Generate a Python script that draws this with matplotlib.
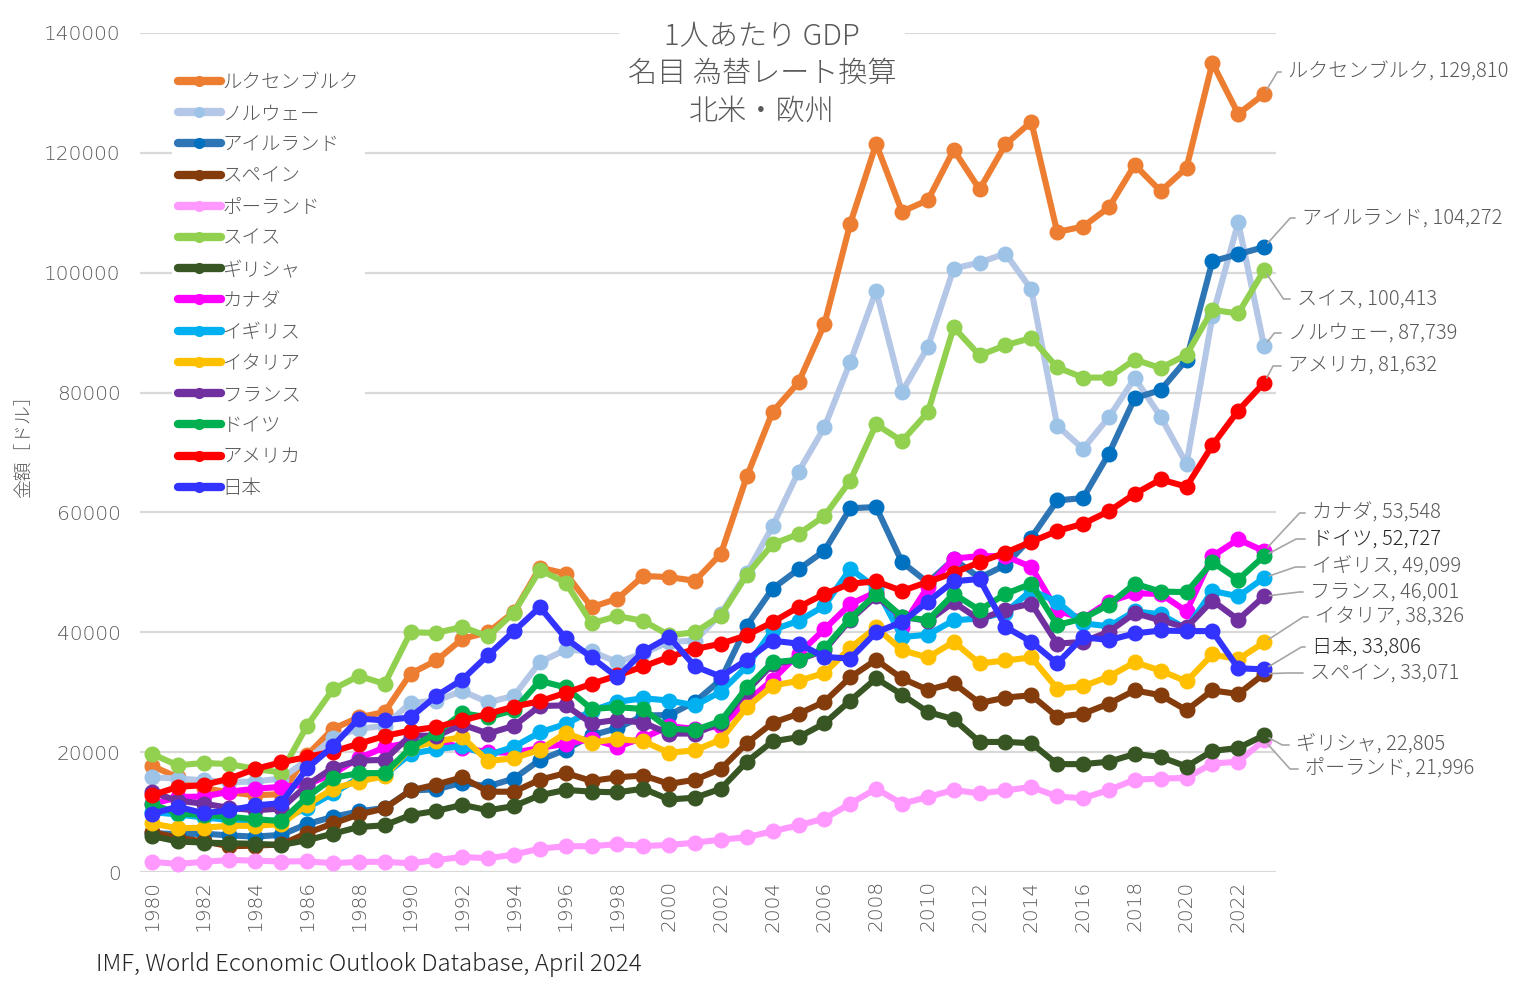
import matplotlib
matplotlib.use('Agg')
import matplotlib.pyplot as plt
from matplotlib.lines import Line2D

plt.rcParams['font.family'] = ['Noto Sans CJK JP', 'DejaVu Sans']
plt.rcParams['font.weight'] = 'light'

years = list(range(1980, 2024))

luxembourg = [17700, 15800, 14000, 13300, 12800, 13000, 19500, 23900, 25800, 26700,
              33100, 35300, 38900, 40000, 43400, 50800, 49800, 44200, 45600, 49400,
              49200, 48600, 53100, 66000, 76800, 81700, 91400, 108200, 121500, 110200,
              112100, 120500, 113900, 121400, 125200, 106800, 107700, 110900, 118000, 113600,
              117500, 135000, 126500, 129810]
norway = [15800, 15600, 15300, 15000, 15100, 15600, 18700, 22400, 23900, 24400,
          28200, 28600, 30200, 28300, 29400, 35000, 37100, 36800, 35000, 36500,
          38400, 38600, 43100, 49900, 57700, 66800, 74200, 85100, 97000, 80100,
          87600, 100700, 101700, 103200, 97200, 74500, 70600, 75900, 82400, 76000,
          68100, 92700, 108400, 87739]
ireland = [6500, 6300, 6400, 6100, 5900, 6200, 8000, 9200, 10100, 10700,
           13600, 13800, 14900, 14300, 15600, 18700, 20400, 22800, 24000, 26100,
           26200, 28400, 32100, 41100, 47300, 50500, 53600, 60700, 60900, 51700,
           48300, 52200, 49100, 51200, 55800, 62000, 62400, 69800, 79100, 80400,
           85500, 101900, 103100, 104272]
spain = [6700, 5700, 5100, 4300, 4400, 4600, 6500, 8100, 9600, 10600,
         13600, 14600, 15800, 13400, 13400, 15400, 16500, 15200, 15800, 16100,
         14700, 15400, 17200, 21500, 24900, 26400, 28400, 32500, 35400, 32300,
         30400, 31500, 28200, 29100, 29500, 25900, 26400, 28100, 30300, 29500,
         27000, 30300, 29700, 33071]
poland = [1700, 1350, 1700, 2000, 1900, 1750, 1800, 1450, 1700, 1700,
          1450, 2000, 2500, 2300, 2900, 3900, 4300, 4300, 4650, 4350,
          4500, 4900, 5400, 5800, 6800, 7800, 8900, 11400, 13900, 11400,
          12500, 13700, 13100, 13600, 14200, 12600, 12300, 13700, 15400, 15600,
          15700, 18100, 18400, 21996]
switzerland = [19700, 17800, 18200, 18000, 17200, 16600, 24400, 30500, 32700, 31400,
               40000, 39900, 40900, 39300, 43300, 50400, 48300, 41500, 42700, 41900,
               39500, 40000, 42800, 49600, 54700, 56400, 59400, 65300, 74700, 71900,
               76700, 90900, 86200, 87900, 89100, 84200, 82500, 82500, 85500, 84100,
               86300, 93800, 93200, 100413]
greece = [6000, 5100, 4900, 4800, 4700, 4500, 5300, 6400, 7500, 7800,
          9500, 10200, 11200, 10300, 11000, 12800, 13700, 13400, 13300, 13900,
          12100, 12400, 13900, 18400, 21800, 22500, 24800, 28600, 32300, 29600,
          26700, 25500, 21700, 21700, 21500, 18000, 18000, 18400, 19700, 19200,
          17600, 20200, 20700, 22805]
canada = [11300, 12500, 12600, 13400, 13900, 14200, 14600, 16400, 19000, 20800,
          21600, 21900, 20700, 20000, 19900, 20700, 21400, 22200, 20900, 22400,
          24300, 23900, 24300, 28400, 32100, 36400, 40500, 44700, 46700, 40900,
          47600, 52300, 52700, 52700, 50900, 43600, 42300, 45100, 46500, 46400,
          43500, 52700, 55500, 53548]
uk = [10000, 9600, 9100, 8700, 8200, 8700, 10700, 13100, 15700, 16200,
      19700, 20500, 21000, 19500, 20900, 23300, 24700, 26900, 28400, 29000,
      28600, 27800, 30100, 34300, 40400, 41900, 44400, 50600, 47400, 39200,
      39600, 42000, 42300, 43300, 47000, 45100, 41500, 41000, 43500, 43000,
      40600, 46900, 46000, 49099]
italy = [8100, 7300, 7400, 7700, 7700, 8000, 11200, 13900, 15100, 16000,
         20700, 21800, 22500, 18500, 19000, 20400, 23200, 21600, 22200, 21800,
         19900, 20300, 22100, 27500, 31100, 31900, 33200, 37400, 40800, 37000,
         35800, 38400, 34800, 35300, 35800, 30600, 31000, 32600, 35000, 33600,
         31800, 36300, 35500, 38326]
france = [13300, 11900, 11400, 10700, 10300, 10600, 14500, 17400, 18600, 18700,
          22800, 22700, 24600, 23100, 24400, 27700, 27800, 24800, 25400, 24900,
          23100, 23100, 24900, 30200, 34700, 35400, 37000, 42100, 46000, 42600,
          41900, 45000, 42100, 43800, 44800, 38100, 38400, 40100, 43200, 42000,
          40800, 45300, 42100, 46001]
germany = [11300, 9800, 9500, 9200, 8800, 8500, 12500, 15700, 16500, 16500,
           20700, 23200, 26500, 25800, 27000, 31900, 30800, 27200, 27500, 27200,
           23900, 23700, 25200, 30800, 35000, 35400, 37300, 42300, 46400, 42600,
           42000, 46400, 43700, 46400, 48100, 41200, 42300, 44600, 48100, 46800,
           46700, 51700, 48800, 52727]
usa = [12800, 14200, 14500, 15600, 17200, 18300, 19200, 20100, 21400, 22700,
       23600, 24200, 25300, 26400, 27600, 28500, 29900, 31400, 32800, 34300,
       35900, 37200, 38100, 39500, 41700, 44200, 46400, 48100, 48500, 46900,
       48400, 49900, 51700, 53300, 55100, 56900, 58100, 60200, 63100, 65500,
       64300, 71200, 77000, 81632]
japan = [9700, 10900, 9800, 10300, 11100, 11500, 17300, 21000, 25600, 25300,
         25800, 29400, 32100, 36200, 40200, 44200, 39000, 35800, 32500, 36800,
         39200, 34300, 32600, 35400, 38600, 38100, 35900, 35600, 40000, 41700,
         45100, 48500, 48900, 40900, 38400, 34800, 39200, 38700, 39800, 40300,
         40200, 40200, 34000, 33806]

names = ['ルクセンブルク', 'ノルウェー', 'アイルランド', 'スペイン', 'ポーランド', 'スイス',
         'ギリシャ', 'カナダ', 'イギリス', 'イタリア', 'フランス', 'ドイツ', 'アメリカ', '日本']
data = [luxembourg, norway, ireland, spain, poland, switzerland, greece,
        canada, uk, italy, france, germany, usa, japan]
line_colors = ['#ED7D31', '#B4C7E7', '#2E75B6', '#843C0C', '#FF99FF', '#92D050', '#375623',
               '#FF00FF', '#00B0F0', '#FFC000', '#7030A0', '#00B050', '#FF0000', '#3333FF']
marker_colors = ['#ED7D31', '#9DC3E6', '#0070C0', '#843C0C', '#FF99FF', '#92D050', '#375623',
                 '#FF00FF', '#00B0F0', '#FFC000', '#7030A0', '#00B050', '#FF0000', '#3333FF']

# end labels: (series index, text x px, text y px from top, angle of leader at point, text color)
end_labels = [
    (0, 1288, 72, 59, '#595959'),
    (2, 1302, 218, 48, '#595959'),
    (5, 1297, 299, -56, '#595959'),
    (1, 1288, 333, 52, '#595959'),
    (12, 1288, 366, 62, '#595959'),
    (7, 1312, 513, 47, '#595959'),
    (11, 1312, 539, 28, '#262626'),
    (8, 1312, 567, 19, '#595959'),
    (10, 1310, 592, 7, '#595959'),
    (9, 1315, 617, 33, '#595959'),
    (13, 1312, 647, 31, '#262626'),
    (3, 1310, 673, 2, '#595959'),
    (6, 1296, 745, -28, '#595959'),
    (4, 1305, 769, -48, '#595959'),
]

W, H = 1524, 996
fig = plt.figure(figsize=(W / 100, H / 100), dpi=100)
ax = fig.add_axes([140 / W, 1 - 872 / H, (1276 - 140) / W, (872 - 33) / H])

for i, (name, vals) in enumerate(zip(names, data)):
    ax.plot(years, vals, color=line_colors[i], lw=4.4, marker='o', markersize=10.5,
            markerfacecolor=marker_colors[i], markeredgecolor=marker_colors[i],
            solid_capstyle='round', solid_joinstyle='round', zorder=3 + i, clip_on=False)

ax.set_xlim(1979.54, 2023.46)
ax.set_ylim(0, 140000)
ax.set_yticks(range(0, 140001, 20000))
ax.set_xticks(range(1980, 2023, 2))
ax.set_xticklabels([str(y) for y in range(1980, 2023, 2)], rotation=90)
ax.tick_params(axis='both', length=0, colors='#595959')
for lab in ax.get_xticklabels() + ax.get_yticklabels():
    lab.set_family('DejaVu Sans')
    lab.set_fontsize(14.5)
ax.tick_params(axis='y', pad=14)
ax.tick_params(axis='x', pad=6)
ax.yaxis.grid(True, color='#d9d9d9', lw=1.6, zorder=0)
ax.set_axisbelow(True)
for s in ax.spines.values():
    s.set_visible(False)

fig.text(25 / W, 1 - 442 / H, '金額［ドル］', rotation=90, ha='center', va='center',
         fontsize=13.5, color='#595959')

fig.text(0.5, 1 - 74 / H, '1人あたり GDP\n名目 為替レート換算\n北米・欧州', ha='center', va='center',
         fontsize=21, color='#595959', linespacing=1.3, zorder=20,
         bbox=dict(facecolor='white', edgecolor='none', pad=6))

handles = [Line2D([], [], color=line_colors[i], lw=6, marker='o', markersize=7,
                  markerfacecolor=marker_colors[i], markeredgecolor=marker_colors[i],
                  solid_capstyle='round') for i in range(len(names))]
leg = ax.legend(handles, names, loc='upper left', bbox_to_anchor=(172 / W, 1 - 66 / H),
                bbox_transform=fig.transFigure, frameon=True, fontsize=14,
                handlelength=2.2, handletextpad=0.1, labelspacing=0.525, borderpad=0.3,
                borderaxespad=0, labelcolor='#595959')
leg.get_frame().set_facecolor('white')
leg.get_frame().set_edgecolor('none')
leg.get_frame().set_alpha(1)
leg.set_zorder(30)

for idx, tx, ty, ang, tcol in end_labels:
    v = data[idx][-1]
    ax.annotate(f'{names[idx]}, {v:,}', xy=(years[-1], v), xycoords='data',
                xytext=(tx, H - ty), textcoords='figure pixels', ha='left', va='center',
                fontsize=14.5, color=tcol, zorder=40,
                arrowprops=dict(arrowstyle='-', color='#a6a6a6', lw=1.2, relpos=(0, 0.5),
                                shrinkA=3, shrinkB=4,
                                connectionstyle=f'angle,angleA=180,angleB={ang},rad=0'))

fig.text(96 / W, 1 - 964 / H, 'IMF, World Economic Outlook Database, April 2024',
         ha='left', va='center', fontsize=17.3, color='#262626')

fig.savefig('out.png', dpi=100, facecolor='white')
